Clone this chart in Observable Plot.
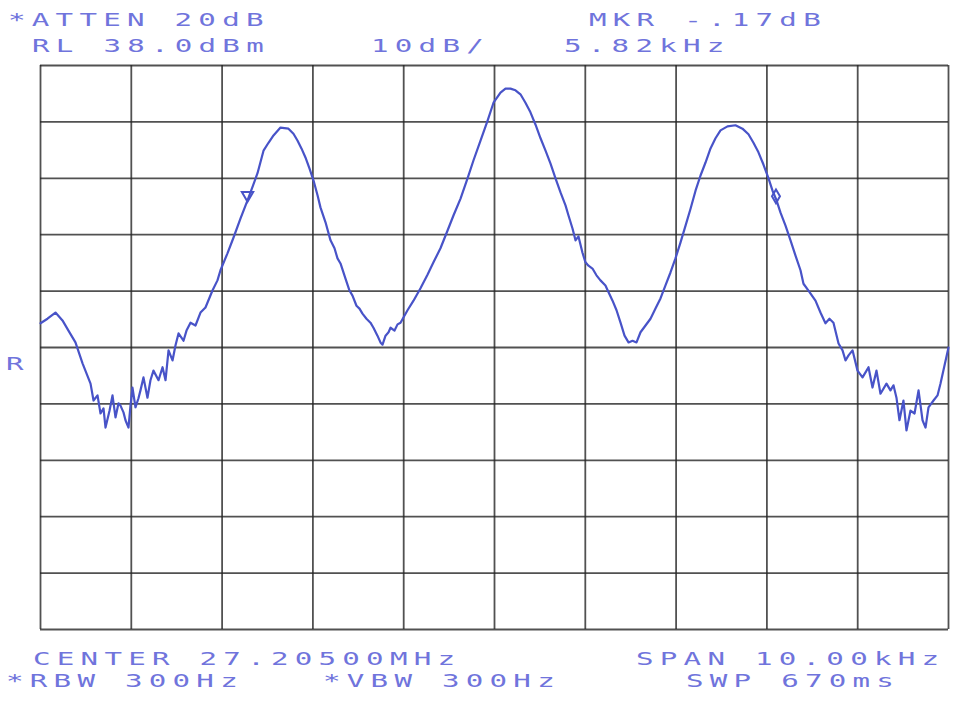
<!DOCTYPE html>
<html>
<head>
<meta charset="utf-8">
<script src="https://cdn.jsdelivr.net/npm/d3@7"></script>
<script src="https://cdn.jsdelivr.net/npm/@observablehq/plot@0.6"></script>
<style>
  html, body { margin: 0; padding: 0; background: #ffffff; }
  #wrap { position: relative; width: 953px; height: 704px; overflow: hidden; }
  #chart { position: absolute; left: 0; top: 0; }
  #labels { position: absolute; left: 0; top: 0; pointer-events: none; }
</style>
</head>
<body>
<div id="wrap">
  <div id="chart"></div>
  <svg id="labels" width="953" height="704"></svg>
</div>
<script>
// ---- Data (frequency offset from centre in kHz, level in dBm) ----
const freqKHz = [
  -5.000,-4.923,-4.835,-4.758,-4.692,-4.615,-4.537,-4.449,-4.416,-4.372,
  -4.339,-4.306,-4.284,-4.240,-4.207,-4.174,-4.141,-4.119,-4.086,-4.064,
  -4.031,-4.009,-3.987,-3.954,-3.921,-3.899,-3.866,-3.822,-3.789,-3.756,
  -3.700,-3.656,-3.623,-3.590,-3.546,-3.513,-3.480,-3.425,-3.392,-3.348,
  -3.293,-3.238,-3.183,-3.106,-3.051,-3.018,-2.941,-2.874,-2.797,-2.720,
  -2.665,-2.610,-2.544,-2.489,-2.434,-2.357,-2.269,-2.214,-2.170,-2.126,
  -2.082,-2.037,-1.993,-1.949,-1.916,-1.861,-1.806,-1.762,-1.729,-1.696,
  -1.641,-1.597,-1.564,-1.520,-1.487,-1.454,-1.410,-1.366,-1.333,-1.289,
  -1.256,-1.233,-1.200,-1.167,-1.145,-1.101,-1.068,-1.035,-0.958,-0.892,
  -0.815,-0.738,-0.672,-0.595,-0.518,-0.452,-0.374,-0.297,-0.231,-0.154,
  -0.077,-0.011, 0.066, 0.121, 0.176, 0.231, 0.286, 0.341, 0.396, 0.452,
   0.507, 0.562, 0.617, 0.672, 0.727, 0.782, 0.815, 0.859, 0.892, 0.925,
   0.969, 1.002, 1.035, 1.079, 1.123, 1.167, 1.222, 1.256, 1.300, 1.344,
   1.388, 1.432, 1.476, 1.520, 1.564, 1.608, 1.663, 1.718, 1.773, 1.828,
   1.883, 1.938, 1.993, 2.048, 2.104, 2.159, 2.214, 2.269, 2.324, 2.379,
   2.434, 2.489, 2.566, 2.654, 2.731, 2.797, 2.852, 2.907, 2.963, 3.018,
   3.062, 3.106, 3.150, 3.205, 3.260, 3.315, 3.370, 3.403, 3.458, 3.535,
   3.590, 3.645, 3.689, 3.733, 3.789, 3.833, 3.866, 3.899, 3.943, 3.998,
   4.053, 4.086, 4.119, 4.163, 4.207, 4.251, 4.317, 4.361, 4.394, 4.427,
   4.460, 4.504, 4.537, 4.581, 4.626, 4.670, 4.714, 4.747, 4.780, 4.835,
   4.879, 4.912, 4.956, 5.000
];
const levelDBm = [
   -7.7, -6.9, -5.8, -7.2, -9.0,-11.1,-14.8,-18.4,-21.4,-20.5,
  -23.7,-22.8,-26.2,-23.2,-20.5,-24.4,-21.9,-22.3,-23.5,-24.9,
  -26.2,-22.3,-19.1,-22.6,-21.0,-19.6,-17.3,-20.9,-17.8,-16.1,
  -17.8,-15.5,-17.8,-12.5,-14.3,-11.6, -9.5,-10.8, -9.0, -7.6,
   -8.1, -5.8, -4.9, -1.9, -0.1,  1.7,  4.7,  7.5, 10.9, 14.1,
   16.5, 18.9, 22.9, 24.3, 25.6, 27.0, 26.8, 25.9, 24.7, 23.3,
   21.7, 19.7, 17.6, 15.0, 12.8, 10.2,  7.0,  5.6,  3.8,  2.9,
    0.2, -1.9, -2.8, -4.6, -5.1, -6.0, -6.9, -7.6, -8.5, -9.9,
  -11.1,-11.5, -9.9, -9.3, -8.5, -9.0, -7.9, -7.6, -5.4, -3.7,
   -1.5,  0.9,  3.1,  5.6,  8.7, 11.4, 14.4, 18.0, 21.2, 24.7,
   28.2, 31.4, 33.2, 33.9, 33.9, 33.6, 32.9, 31.4, 29.7, 27.5,
   25.1, 22.9, 20.6, 18.0, 15.5, 13.2, 11.4,  9.1,  7.0,  7.7,
    4.8,  3.1,  2.5,  2.0,  0.8, -0.1, -1.0, -2.2, -3.7, -5.4,
   -7.6, -9.9,-11.1,-10.8,-11.1, -9.3, -8.1, -6.9, -5.1, -3.3,
   -1.0,  1.3,  3.8,  6.6,  9.6, 12.6, 15.8, 18.5, 20.8, 23.3,
   25.1, 26.5, 27.2, 27.4, 26.8, 25.8, 24.3, 22.6, 20.4, 18.0,
   15.8, 14.1, 11.9,  9.6,  7.0,  4.3,  1.7, -0.7, -1.9, -3.7,
   -5.8, -7.7, -6.9, -7.6,-11.3,-12.5,-14.3,-13.4,-12.5,-16.1,
  -17.3,-16.4,-15.5,-19.1,-16.1,-20.2,-18.4,-19.6,-18.7,-20.9,
  -24.9,-21.4,-26.7,-23.2,-23.7,-19.6,-24.9,-26.2,-22.6,-21.4,
  -20.5,-18.4,-15.2,-12.0
];

// Grid divisions: 1 kHz/div horizontally, 10 dB/div vertically (RL 38.0 dBm)
const gridFreq = [-5, -4, -3, -2, -1, 0, 1, 2, 3, 4, 5];
const gridLevel = [38, 28, 18, 8, -2, -12, -22, -32, -42, -52, -62];

// Markers: reference (triangle) and delta (diamond) – delta 5.82 kHz, -.17 dB
const refMarkerFreq = [-2.72];
const refMarkerLevel = [15.0];
const deltaMarkerFreq = [3.10];
const deltaMarkerLevel = [14.8];

// Annotation texts
const topLine1 = ["*ATTEN 20dB", "MKR -.17dB"];
const topLine2 = ["RL 38.0dBm", "10dB/", "5.82kHz"];
const bottomLine1 = ["CENTER 27.20500MHz", "SPAN 10.00kHz"];
const bottomLine2 = ["*RBW 300Hz", "*VBW 300Hz", "SWP 670ms"];
const sideLabel = ["R"];

// ---- Chart ----
const trace = freqKHz.map((f, i) => ({f, L: levelDBm[i]}));
const refM = refMarkerFreq.map((f, i) => ({f, L: refMarkerLevel[i]}));
const delM = deltaMarkerFreq.map((f, i) => ({f, L: deltaMarkerLevel[i]}));

const traceColor = "#4853c8";
const gridColor = "#262626";

const chart = Plot.plot({
  width: 953,
  height: 704,
  marginTop: 65,
  marginLeft: 40,
  marginRight: 5,
  marginBottom: 75,
  style: {background: "#ffffff", overflow: "visible"},
  x: {domain: [-5, 5], axis: null},
  y: {domain: [-62, 38], axis: null},
  marks: [
    Plot.ruleX(gridFreq, {stroke: gridColor, strokeWidth: 1.8, strokeOpacity: 0.8}),
    Plot.ruleY(gridLevel, {stroke: gridColor, strokeWidth: 1.8, strokeOpacity: 0.8}),
    Plot.line(trace, {x: "f", y: "L", stroke: traceColor, strokeWidth: 2.2, strokeLinejoin: "round", strokeLinecap: "round", curve: "linear"}),
    Plot.dot(refM, {x: "f", y: "L", symbol: "triangle", rotate: 180, r: 4.2, stroke: traceColor, strokeWidth: 2, fill: "none"}),
    Plot.dot(delM, {x: "f", y: "L", symbol: "diamond", r: 4.2, stroke: traceColor, strokeWidth: 2, fill: "none"})
  ]
});
document.getElementById("chart").appendChild(chart);

// ---- Plotter-style annotations ----
const labels = d3.select("#labels");
const pitch = 23.8;       // character pitch of the plotter font
const sx = 1.62;          // horizontal stretch
const fs = 18;
const adv = fs * 0.602;
const ls = pitch / sx - adv;
function put(str, x, y) {
  labels.append("g")
    .attr("transform", `translate(${x},${y}) scale(${sx},1)`)
    .append("text")
    .attr("x", 0).attr("y", 0)
    .attr("font-family", "'DejaVu Sans Mono', monospace")
    .attr("font-size", fs)
    .attr("letter-spacing", ls)
    .attr("fill", "#7074dc")
    .style("white-space", "pre")
    .text(str);
}
put(topLine1[0], 8, 26);
put(topLine1[1], 589, 26);
put(topLine2[0], 32, 52);
put(topLine2[1], 371, 52);
put(topLine2[2], 564, 52);
put(bottomLine1[0], 33, 665);
put(bottomLine1[1], 636, 665);
put(bottomLine2[0], 6, 687);
put(bottomLine2[1], 323, 687);
put(bottomLine2[2], 686, 687);
put(sideLabel[0], 6, 370);
</script>
</body>
</html>
